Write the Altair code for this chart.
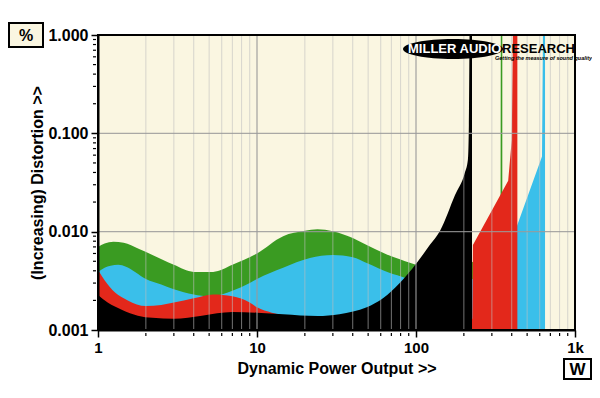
import altair as alt
import pandas as pd

# ---- data (power in W, distortion in %) ----
# smooth low-power parts
green_w = [1.0, 1.1, 1.25, 1.45, 1.8, 2.2, 3.0, 4.0, 5.3, 7.0, 10, 14.6, 20, 24, 30, 40, 49, 65, 80, 100, 130]
green_v = [0.0070, 0.0076, 0.0079, 0.0077, 0.0067, 0.0058, 0.0046, 0.0039, 0.0039, 0.0046, 0.0060, 0.0090, 0.0102, 0.0106, 0.0101, 0.0086, 0.0073, 0.0059, 0.0052, 0.0046, 0.0043]
# clipping part (straight segments)
green_clip_w = [130, 200, 300, 340, 341.5, 349]
green_clip_v = [0.0043, 0.0045, 0.0060, 0.0100, 1.5, 1.5]

cyan_w = [1.0, 1.1, 1.2, 1.34, 1.5, 1.71, 2.0, 2.5, 3.0, 4.0, 5.0, 6.0, 7.0, 9.0, 10, 14.6, 21.5, 30, 40, 49, 68.6, 85, 100, 150]
cyan_v = [0.0039, 0.0043, 0.0045, 0.0046, 0.0044, 0.0039, 0.0033, 0.0029, 0.0026, 0.0023, 0.0022, 0.0023, 0.0025, 0.0030, 0.0033, 0.0043, 0.0054, 0.0058, 0.0055, 0.0048, 0.0038, 0.0034, 0.0030, 0.0030]
cyan_clip_w = [150, 300, 430, 432, 620, 630, 648]
cyan_clip_v = [0.0030, 0.0035, 0.0045, 0.0115, 0.058, 1.5, 1.5]

red_w = [1.0, 1.1, 1.28, 1.54, 2.0, 2.5, 3.0, 4.0, 5.3, 7.0, 9.0, 10, 12.4, 15, 20, 50, 100, 200]
red_v = [0.0041, 0.0032, 0.0024, 0.0020, 0.00175, 0.0018, 0.0019, 0.0021, 0.0023, 0.0022, 0.0019, 0.0017, 0.0015, 0.0014, 0.0013, 0.0013, 0.0013, 0.0013]
red_clip_w = [200, 226, 228, 380, 400, 408, 434]
red_clip_v = [0.0013, 0.0013, 0.0073, 0.033, 0.085, 1.5, 1.5]

black_w = [1.0, 1.15, 1.42, 1.78, 2.2, 3.0, 4.5, 7.0, 10, 14.6, 24, 33, 49, 62, 79, 101, 122, 142, 176, 203, 212, 215, 218, 225]
black_v = [0.00227, 0.0019, 0.0016, 0.0014, 0.00133, 0.0013, 0.0014, 0.00152, 0.0015, 0.00145, 0.00139, 0.00145, 0.0017, 0.0021, 0.0030, 0.0048, 0.0073, 0.0103, 0.0236, 0.040, 0.054, 0.12, 1.5, 1.5]

x_labels_at = [1, 10, 100, 1000]
y_labels_at = [0.001, 0.01, 0.1, 1.0]
x_minor = [2, 3, 4, 5, 6, 7, 8, 9, 20, 30, 40, 50, 60, 70, 80, 90, 200, 300, 400, 500, 600, 700, 800, 900]
y_minor = [0.002, 0.003, 0.004, 0.005, 0.006, 0.007, 0.008, 0.009,
           0.02, 0.03, 0.04, 0.05, 0.06, 0.07, 0.08, 0.09,
           0.2, 0.3, 0.4, 0.5, 0.6, 0.7, 0.8, 0.9]
x_major_grid = [10, 100]
y_major_grid = [0.01, 0.1]

FONT = "Liberation Sans"
W, H = 477, 295
BG = "#FAF6E1"

xscale = alt.Scale(type="log", domain=[1, 1000], nice=False)
yscale = alt.Scale(type="log", domain=[0.001, 1], nice=False)

xaxis = alt.Axis(values=x_labels_at,
                 labelExpr="datum.value >= 1000 ? '1k' : format(datum.value, 'd')",
                 tickSize=7, tickColor="black", tickWidth=1.5, labelPadding=3,
                 labelFont=FONT, labelFontSize=15, labelFontWeight="bold", labelColor="black",
                 labelFlush=False, labelOverlap=False,
                 title="Dynamic Power Output >>", titleFont=FONT, titleFontSize=16,
                 titleFontWeight="bold", titleColor="black", titleY=43, titleBaseline="alphabetic",
                 grid=False, domainColor="black", domainWidth=2, zindex=1)
yaxis = alt.Axis(values=y_labels_at, format=".3f",
                 tickSize=7, tickColor="black", tickWidth=1.5, labelPadding=3,
                 labelFont=FONT, labelFontSize=16, labelFontWeight="bold", labelColor="black",
                 labelOverlap=False,
                 title="(Increasing) Distortion >>", titleFont=FONT, titleFontSize=16,
                 titleFontWeight="bold", titleColor="black", titleAngle=270,
                 titleX=-61, titleY=H / 2, titleAlign="center", titleBaseline="middle",
                 grid=False, domainColor="black", domainWidth=2, zindex=1)

X = lambda f: alt.X(f, type="quantitative", scale=xscale, axis=xaxis)
Y = lambda f: alt.Y(f, type="quantitative", scale=yscale, axis=yaxis)


def area(ws, vs, color, interp):
    df = pd.DataFrame({"w": ws, "v": vs})
    return alt.Chart(df).mark_area(color=color, interpolate=interp, clip=True, opacity=1).encode(
        x=X("w"), y=Y("v"), y2=alt.datum(0.001))


GREEN, CYAN, RED, BLACK = "#3A9B22", "#3ABFEA", "#E3281B", "#000000"
layers = [
    area(green_w, green_v, GREEN, "monotone"), area(green_clip_w, green_clip_v, GREEN, "linear"),
    area(cyan_w, cyan_v, CYAN, "monotone"), area(cyan_clip_w, cyan_clip_v, CYAN, "linear"),
    area(red_w, red_v, RED, "monotone"), area(red_clip_w, red_clip_v, RED, "linear"),
    area(black_w, black_v, BLACK, "monotone"),
]

grid_x_minor = alt.Chart(pd.DataFrame({"g": x_minor})).mark_rule(
    color="#c0c0c0", opacity=0.6, strokeWidth=1).encode(x=X("g"))
grid_x_major = alt.Chart(pd.DataFrame({"g": x_major_grid})).mark_rule(
    color="#9a9a9a", opacity=0.85, strokeWidth=1.3).encode(x=X("g"))
grid_y_major = alt.Chart(pd.DataFrame({"g": y_major_grid})).mark_rule(
    color="#9a9a9a", opacity=0.85, strokeWidth=1.3).encode(y=Y("g"))

tick_x_minor = alt.Chart(pd.DataFrame({"g": x_minor})).mark_rule(
    color="black", strokeWidth=1.2, clip=False).encode(x=X("g"), y=alt.value(H + 3), y2=alt.value(H + 6))
tick_y_minor = alt.Chart(pd.DataFrame({"g": y_minor})).mark_rule(
    color="black", strokeWidth=1.2, clip=False).encode(y=Y("g"), x=alt.value(-5), x2=alt.value(-2))

one = pd.DataFrame({"k": [0]})

border = alt.Chart(one).mark_rect(fillOpacity=0, stroke="black", strokeWidth=2).encode(
    x=alt.value(0), x2=alt.value(W), y=alt.value(0), y2=alt.value(H))

pct_box = alt.Chart(one).mark_rect(fill=BG, stroke="black", strokeWidth=2).encode(
    x=alt.value(-89), x2=alt.value(-55), y=alt.value(-12), y2=alt.value(12))
pct_text = alt.Chart(one).mark_text(text="%", font=FONT, fontSize=16, fontWeight="bold",
                                    align="center", baseline="middle", color="black").encode(
    x=alt.value(-72), y=alt.value(0.5))

w_box = alt.Chart(one).mark_rect(fill="white", stroke="black", strokeWidth=2).encode(
    x=alt.value(466), x2=alt.value(493), y=alt.value(324), y2=alt.value(344))
w_text = alt.Chart(one).mark_text(text="W", font=FONT, fontSize=17, fontWeight="bold",
                                  align="center", baseline="middle", color="black").encode(
    x=alt.value(479.5), y=alt.value(334.5))

k = 0.5523
ry = 0.2
ell = (f"M -1 0 C -1 {-ry*k:.4f} {-k:.4f} {-ry} 0 {-ry} C {k:.4f} {-ry} 1 {-ry*k:.4f} 1 0 "
       f"C 1 {ry*k:.4f} {k:.4f} {ry} 0 {ry} C {-k:.4f} {ry} -1 {ry*k:.4f} -1 0 Z")
logo_ell = alt.Chart(one).mark_point(shape=ell, filled=True, color="black", opacity=1,
                                     size=10000, strokeWidth=0).encode(
    x=alt.value(355), y=alt.value(14))
logo_t1 = alt.Chart(one).mark_text(text="MILLER AUDIO", font=FONT, fontSize=13, fontWeight="bold",
                                   align="left", baseline="alphabetic", color="white").encode(
    x=alt.value(310), y=alt.value(18))
logo_t2 = alt.Chart(one).mark_text(text="RESEARCH", font=FONT, fontSize=13, fontWeight="bold",
                                   align="left", baseline="alphabetic", color="black").encode(
    x=alt.value(404), y=alt.value(18))
logo_t3 = alt.Chart(one).mark_text(text="Getting the measure of sound quality", font=FONT, fontSize=5.5,
                                   fontWeight="bold", fontStyle="italic",
                                   align="left", baseline="alphabetic", color="black").encode(
    x=alt.value(397), y=alt.value(24.5))

chart = alt.layer(
    *layers,
    grid_x_minor, grid_x_major, grid_y_major,
    tick_x_minor, tick_y_minor, border,
    pct_box, pct_text, w_box, w_text,
    logo_ell, logo_t1, logo_t2, logo_t3,
).properties(
    width=W, height=H,
    autosize=alt.AutoSizeParams(type="none"),
    padding={"left": 90, "top": 27, "right": 17, "bottom": 55},
).configure_view(fill=BG, stroke=None)

chart.save("out.html", embed_options={"renderer": "svg", "actions": False})
